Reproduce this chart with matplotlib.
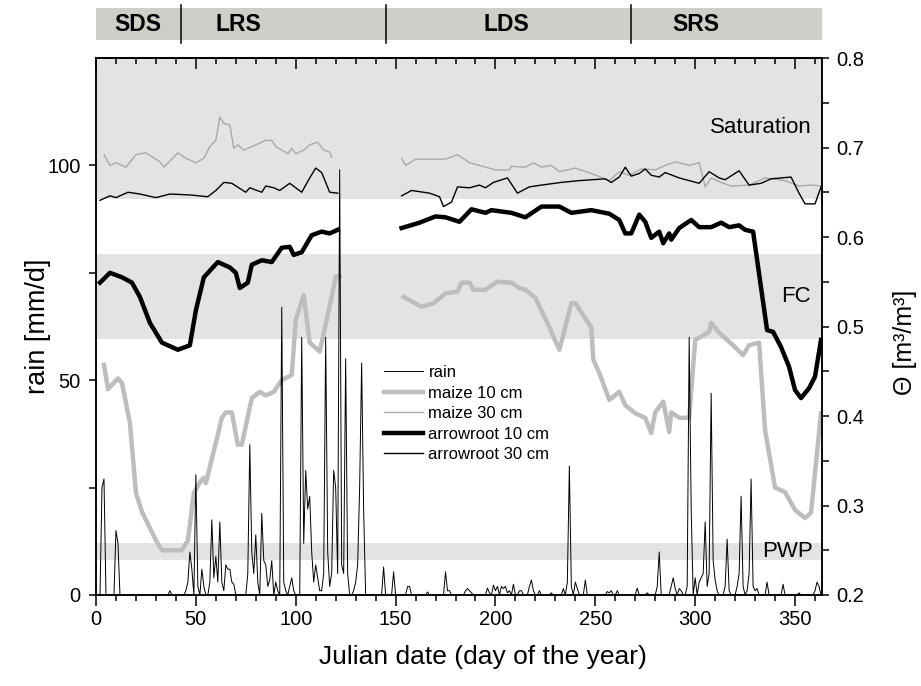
import numpy as np
import matplotlib.pyplot as plt
from matplotlib.ticker import MultipleLocator, FixedLocator

plt.rcParams['font.family'] = ['Liberation Sans', 'DejaVu Sans']

# daily rainfall [mm/d]; days not listed were dry
rain_day = [3, 4, 10, 11, 37, 45, 46, 47, 48, 50, 51, 53, 54, 57, 58, 59, 60, 61, 62, 63, 64,
            65, 66, 67, 68, 69, 76, 77, 78, 79, 80, 81, 83, 84, 85, 86, 87, 88, 90, 91, 93, 94,
            95, 97, 98, 99, 103, 104, 105, 106, 107, 108, 109, 110, 111, 112, 113, 114, 115,
            116, 117, 118, 119, 120, 121, 122, 123, 124, 125, 126, 129, 130, 131, 132, 133,
            134, 144, 149, 156, 157, 166, 175, 176, 177, 185, 186, 187, 188, 196, 197, 199,
            200, 201, 203, 204, 205, 206, 207, 209, 212, 213, 217, 218, 219, 222, 228, 234,
            236, 237, 238, 240, 241, 245, 256, 257, 258, 261, 271, 276, 281, 282, 288, 289,
            290, 292, 293, 296, 297, 298, 300, 302, 303, 304, 305, 306, 307, 308, 309, 310,
            311, 315, 316, 317, 321, 322, 323, 324, 326, 327, 328, 329, 330, 331, 336, 344,
            352, 360, 361, 362]
rain_mm = [25, 27, 15, 12, 1, 1, 3, 10, 6, 28, 2, 6, 2, 3, 17.5, 4, 9, 3, 17, 3, 1,
           7, 6, 6, 3, 2.5, 5, 35, 10, 5, 14, 3, 19, 8, 7, 2, 3.5, 8, 3, 1, 67, 3,
           1, 2, 4, 1, 60, 12, 29, 20, 23, 10, 3, 7, 4, 1, 1, 5, 60,
           10, 2, 5, 29, 25, 5, 99, 7, 5, 55, 5, 1, 3, 7, 25, 54,
           20, 6.5, 5.4, 2, 2, 0.7, 5.4, 1, 1, 1, 1.5, 1, 0.5, 1.6, 0.5, 2.3,
           1, 2, 2, 1.5, 2, 0.5, 1, 2.5, 1, 1, 2, 3.5, 1, 1, 0.5, 1.5,
           3, 30, 2, 3, 1.5, 3.5, 0.8, 0.5, 1, 1, 1.6, 0.5, 2, 10, 2, 4,
           1.5, 1.5, 1, 2, 60, 20, 4, 3, 4, 5, 17, 2, 5, 47, 8, 3.5,
           1, 2, 13, 1, 2, 5, 23, 2, 1, 5, 27, 2, 1, 1.5, 3, 2.5,
           0.5, 1, 3, 2]

rain = np.zeros(366)
rain[rain_day] = rain_mm
day = np.arange(366)

# volumetric soil water content [m3/m3]; nan = logger gap
mz10_day = [4, 6, 11, 13, 17, 20, 23, 30, 33, 43, 46, 49, 52, 54, 55, 60, 63, 65, 68, 71, 73,
            78, 82, 85, 89, 93, 98, 100, 104, 107, 112, 118, 120, 122, 137,
            154, 163, 169, 175, 181, 183, 187, 189, 195, 201, 208, 212, 215, 220, 226, 232,
            238, 240, 248, 249, 252, 257, 262, 265, 270, 275, 278, 280, 284, 287, 288, 292,
            297, 300, 307, 308, 312, 319, 324, 327, 332, 335, 340, 345, 350, 355, 358, 363]
mz10 = [.457, .430, .442, .437, .392, .314, .293, .261, .250, .250, .261, .314, .326, .331,
        .325, .370, .398, .404, .404, .368, .368, .420, .427, .423, .427, .440, .446, .507,
        .535, .482, .472, .533, .556, .556, np.nan,
        .533, .522, .526, .537, .539, .549, .549, .541, .541, .550, .549, .543, .541, .532,
        .504, .474, .526, .526, .499, .463, .448, .418, .427, .412, .403, .398, .381, .404,
        .416, .382, .404, .398, .398, .485, .494, .504, .493, .479, .468, .479, .482, .384,
        .320, .315, .295, .286, .292, .403]

mz30_day = [4, 7, 10, 15, 20, 25, 32, 34, 41, 45, 50, 54, 57, 60, 62, 64, 67, 69, 71, 74, 80,
            85, 88, 90, 96, 98, 100, 104, 107, 111, 114, 117, 118, 137,
            153, 155, 160, 167, 175, 181, 187, 192, 200, 207, 208, 215, 219, 223, 228, 232,
            240, 248, 257, 262, 267, 273, 280, 285, 290, 297, 302, 305, 308, 313, 318, 327,
            335, 345, 352, 358, 363]
mz30 = [.692, .680, .683, .678, .692, .694, .684, .678, .694, .688, .683, .688, .701, .708,
        .734, .727, .725, .699, .703, .697, .703, .708, .708, .701, .693, .699, .693, .697,
        .703, .706, .697, .695, .689, np.nan,
        .688, .680, .687, .687, .687, .692, .683, .680, .675, .675, .679, .678, .683, .678,
        .680, .673, .677, .671, .663, .673, .669, .676, .675, .680, .684, .680, .683, .656,
        .666, .661, .657, .658, .666, .663, .657, .658, .657]

ar10_day = [2, 7, 13, 18, 22, 27, 33, 41, 47, 50, 54, 61, 67, 70, 72, 76, 78, 83, 88, 93, 97,
            99, 103, 108, 113, 117, 121, 137,
            153, 162, 170, 175, 182, 188, 195, 198, 208, 215, 223, 232, 238, 248, 257, 262,
            265, 268, 272, 275, 278, 282, 284, 287, 288, 292, 298, 302, 308, 313, 317, 322,
            325, 329, 336, 339, 343, 347, 350, 353, 357, 360, 363]
ar10 = [.549, .560, .555, .549, .533, .504, .482, .474, .479, .518, .555, .572, .566, .560,
        .543, .549, .569, .574, .572, .588, .589, .580, .583, .602, .606, .604, .608, np.nan,
        .610, .616, .623, .622, .617, .631, .627, .630, .627, .622, .634, .634, .627, .630,
        .626, .619, .604, .604, .625, .617, .599, .606, .593, .604, .597, .610, .619, .611,
        .611, .616, .611, .613, .608, .606, .496, .494, .477, .455, .429, .420, .431, .444,
        .485]

ar30_day = [2, 7, 10, 16, 22, 30, 37, 47, 56, 60, 64, 68, 75, 77, 83, 85, 89, 92, 97, 103,
            107, 110, 113, 117, 121, 137,
            153, 158, 167, 172, 174, 178, 181, 187, 192, 195, 199, 206, 211, 217, 223, 233,
            242, 255, 258, 262, 265, 268, 272, 275, 278, 282, 285, 292, 302, 307, 312, 315,
            322, 327, 333, 338, 348, 352, 355, 360, 363]
ar30 = [.641, .646, .644, .650, .648, .644, .648, .647, .645, .652, .661, .660, .650, .655,
        .650, .657, .655, .652, .660, .650, .666, .677, .672, .650, .649, np.nan,
        .646, .652, .649, .645, .634, .639, .656, .655, .658, .655, .661, .666, .649, .656,
        .658, .661, .663, .665, .661, .667, .678, .668, .671, .676, .669, .667, .672, .666,
        .660, .673, .666, .664, .674, .658, .660, .665, .667, .649, .637, .637, .656]

# soil water thresholds [m3/m3]
saturation = 0.642
fc_band = (0.486, 0.581)
pwp_band = (0.239, 0.258)

# seasons: short dry, long rainy, long dry, short rainy
season_names = ['SDS', 'LRS', 'LDS', 'SRS']
season_mid = [21, 71.5, 205.5, 300.5]
season_edges = [42.5, 145, 268]

W, H = 921, 686
fig = plt.figure(figsize=(W / 100, H / 100), dpi=100)
ax = fig.add_axes([96 / W, 1 - 595 / H, 726 / W, 537 / H])
ax2 = ax.twinx()
ax.set_zorder(ax2.get_zorder() + 1)
ax.patch.set_visible(False)

band_col = '#e3e3e3'
ax2.axhspan(saturation, 0.8, color=band_col, lw=0, zorder=0)
ax2.axhspan(*fc_band, color=band_col, lw=0, zorder=0)
ax2.axhspan(*pwp_band, color=band_col, lw=0, zorder=0)

l_mz10, = ax2.plot(mz10_day, mz10, color='#bdbdbd', lw=3.2, label='maize 10 cm')
l_mz30, = ax2.plot(mz30_day, mz30, color='#a9a9a9', lw=1.0, label='maize 30 cm')
l_ar10, = ax2.plot(ar10_day, ar10, color='black', lw=3.2, label='arrowroot 10 cm')
l_ar30, = ax2.plot(ar30_day, ar30, color='black', lw=1.0, label='arrowroot 30 cm')
l_rain, = ax.plot(day, rain, color='black', lw=0.7, label='rain')

ax.set_xlim(0, 363.5)
ax.set_ylim(0, 125)
ax2.set_ylim(0.2, 0.8)

ax.xaxis.set_major_locator(MultipleLocator(50))
ax.xaxis.set_minor_locator(MultipleLocator(10))
ax.yaxis.set_major_locator(FixedLocator([0, 50, 100]))
ax.yaxis.set_minor_locator(FixedLocator([25, 75]))
ax2.yaxis.set_major_locator(MultipleLocator(0.1))
ax2.yaxis.set_minor_locator(MultipleLocator(0.05))

ax.tick_params(axis='x', which='major', direction='out', length=8, width=1.1, pad=3)
ax.tick_params(axis='x', which='minor', direction='out', length=4.5, width=1.1)
ax.tick_params(axis='y', which='both', direction='out', length=5, width=1.1)
ax.tick_params(axis='y', which='major', pad=6)
ax2.tick_params(axis='y', which='both', direction='out', length=5, width=1.1)
ax2.tick_params(axis='y', which='major', pad=5)
ax.tick_params(labelsize=14.5)
ax2.tick_params(labelsize=14.5)

top = ax.secondary_xaxis('top')
top.xaxis.set_major_locator(MultipleLocator(50))
top.xaxis.set_minor_locator(MultipleLocator(10))
top.tick_params(which='major', direction='in', length=8, width=1.1, labeltop=False)
top.tick_params(which='minor', direction='in', length=4.5, width=1.1)

for a in (ax, ax2, top):
    for s in a.spines.values():
        s.set_linewidth(1.1)

ax.set_xlabel('Julian date (day of the year)', fontsize=19)
ax.xaxis.set_label_coords((483 - 96) / 726, -(657 - 595) / 537)
ax.xaxis.label.set_va('center')
ax.set_ylabel('rain [mm/d]', fontsize=19.5)
ax.yaxis.set_label_coords(-(96 - 38) / 726, 0.5)
ax.yaxis.label.set_va('center')
ax2.set_ylabel('Θ [m³/m³]', fontsize=18)
ax2.yaxis.set_label_coords((905 - 96) / 726, (595 - 342) / 537)
ax2.yaxis.label.set_va('center')

ax2.text(358.5, 0.722, 'Saturation', ha='right', va='center', fontsize=16)
ax2.text(358, 0.533, 'FC', ha='right', va='center', fontsize=16)
ax2.text(359, 0.249, 'PWP', ha='right', va='center', fontsize=16)

ax.legend(handles=[l_rain, l_mz10, l_mz30, l_ar10, l_ar30], loc='upper left',
          bbox_to_anchor=(0.397, 0.428), frameon=False, fontsize=12,
          handlelength=2.3, handletextpad=0.35, labelspacing=0.33, borderpad=0,
          borderaxespad=0)

# season bar above the plot
bar = fig.add_axes([96 / W, 1 - 40 / H, 726 / W, 32 / H])
bar.set_xlim(ax.get_xlim())
bar.set_ylim(0, 1)
bar.set_facecolor('#cfcfca')
for s in bar.spines.values():
    s.set_visible(False)
bar.set_xticks([])
bar.set_yticks([])
for x in season_edges:
    bar.plot([x, x], [-0.1, 1.08], color='black', lw=1.1, clip_on=False)
for name, x in zip(season_names, season_mid):
    bar.text(x, 0.48, name, ha='center', va='center', fontsize=16.5, fontweight='bold')

fig.savefig('out.png', dpi=100)
